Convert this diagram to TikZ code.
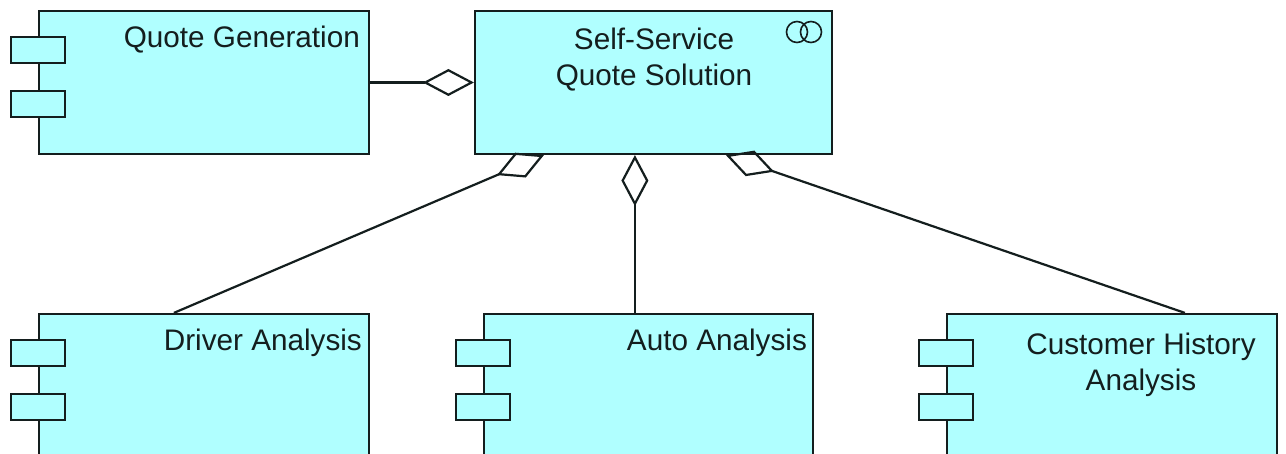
\documentclass[tikz,border=0pt]{standalone}
\usepackage{fontspec}
\setmainfont{Liberation Sans}
\usetikzlibrary{arrows.meta}
\definecolor{boxfill}{RGB}{176,255,255}
\definecolor{ink}{RGB}{20,30,30}
\tikzset{
  comp/.style={draw=ink, fill=boxfill, line width=2.2pt, rectangle, inner sep=0pt, minimum height=143pt},
  tab/.style={draw=ink, fill=boxfill, line width=2.2pt, rectangle, inner sep=0pt, minimum width=54pt, minimum height=26pt},
  lbl/.style={inner sep=0pt, text=ink, font=\fontsize{29.7}{36}\selectfont},
  agg/.style={draw=ink, line width=2.2pt, -{Diamond[open, length=51pt, width=27pt]}}
}
\begin{document}
\begin{tikzpicture}[x=1pt,y=-1pt]
\useasboundingbox (0,0) rectangle (1286,454);
\fill[white] (0,0) rectangle (1286,454);
\clip (0,0) rectangle (1286,454);
% boxes
\node[comp, minimum width=330pt] (qg) at (204,82.5) {};
\node[comp, minimum width=357pt] (ss) at (653.5,82.5) {};
\node[comp, minimum width=330pt, minimum height=180pt] (da) at (204,404) {};
\node[comp, minimum width=329pt, minimum height=180pt] (aa) at (648.5,404) {};
\node[comp, minimum width=330pt, minimum height=180pt] (ch) at (1112,404) {};
% component tabs
\foreach \b in {qg,da,aa,ch}{
  \node[tab] (\b t1) at ([xshift=0pt,yshift=-40.5pt]\b.north west) {};
  \node[tab] (\b t2) at ([xshift=0pt,yshift=-94pt]\b.north west) {};
}
% icon
\draw[ink, line width=1.6pt] (797,32) circle (10.5);
\draw[ink, line width=1.6pt] (811,32) circle (10.5);
% labels
\node[lbl, anchor=base east] (qgl) at ([xshift=-10pt,yshift=-38pt]qg.north east) {Quote Generation};
\node[lbl, anchor=base east] (dal) at ([xshift=-8pt,yshift=-38pt]da.north east) {Driver Analysis};
\node[lbl, anchor=base east] (aal) at ([xshift=-7pt,yshift=-38pt]aa.north east) {Auto Analysis};
\node[lbl, align=center, anchor=north] (ssl) at (654,27.5) {Self-Service\\Quote Solution};
\node[lbl, align=center, anchor=north] (chl) at (1141,332.5) {Customer History\\Analysis};
% connectors
\draw[agg] (qg.east) -- (ss.west);
\draw[agg] ([xshift=152pt]aa.north west) -- ([xshift=161pt]ss.south west);
\draw[agg] ([xshift=136pt]da.north west) -- ([xshift=70pt]ss.south west);
\draw[agg] ([xshift=239pt]ch.north west) -- ([xshift=252pt]ss.south west);
\end{tikzpicture}
\end{document}
